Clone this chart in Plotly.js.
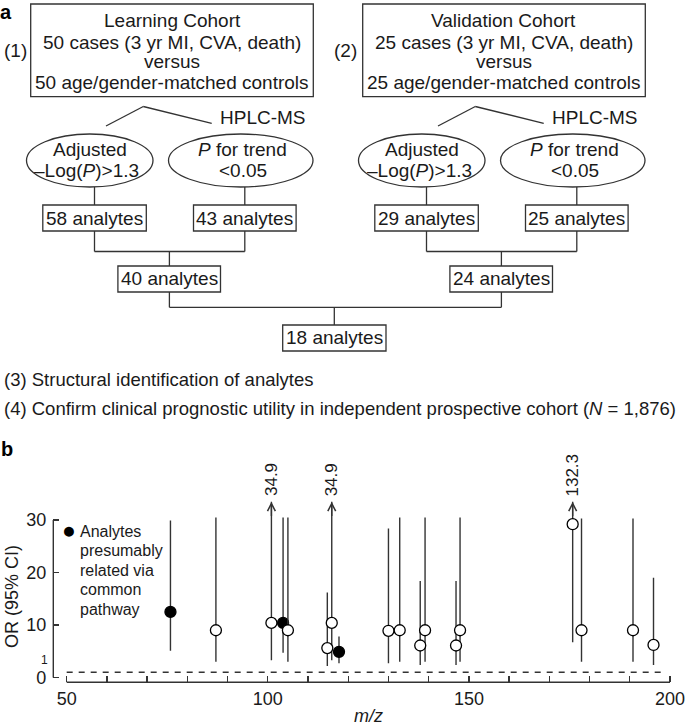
<!DOCTYPE html>
<html>
<head>
<meta charset="utf-8">
<script src="https://cdn.plot.ly/plotly-3.0.1.min.js"></script>
<style>html,body{margin:0;padding:0;background:#fff;}#chart{width:685px;height:726px;}</style>
</head>
<body>
<div id="chart"></div>
<script>
// ---------------- DATA (panel b) ----------------
const mz      = [75.8, 87.1, 100.9, 103.8, 105.0, 114.8, 115.9, 117.7, 130.0, 132.8, 137.9, 139.1, 146.8, 147.8, 175.8, 178.0, 190.8, 195.9];
const oddsRatio = [12.5, 9.0, 10.4, 10.4, 9.0, 5.6, 10.4, 4.9, 8.9, 9.0, 6.1, 9.0, 6.1, 9.0, 29.2, 9.0, 9.0, 6.2];
const ciLow   = [5.1, 3.0, 3.3, 4.7, 3.0, 2.2, 3.3, 2.7, 2.7, 3.0, 2.4, 3.0, 2.4, 3.0, 6.7, 3.0, 3.0, 2.4];
const ciHigh  = [29.9, 30.5, 34.9, 30.5, 30.5, 16.2, 34.9, 7.8, 28.4, 30.5, 18.4, 30.5, 18.4, 30.5, 132.3, 30.3, 30.3, 19.0];
const commonPathway = [1, 0, 0, 1, 0, 0, 0, 1, 0, 0, 0, 0, 0, 0, 0, 0, 0, 0];
const axisCap = 33.5;            // upper CIs beyond this are drawn as arrows
const xTickVals = [50, 60, 70, 80, 90, 100, 110, 120, 130, 140, 150, 160, 170, 180, 190, 200];
const xTickLabeled = [50, 100, 150, 200];
const yTickVals = [0, 10, 20, 30];
const refOR = 1;

// ---------------- DATA (panel a text) ----------------
const cohortTitles = ['Learning Cohort', 'Validation Cohort'];
const cohortCases = [50, 25];
const step1Counts = [58, 43, 29, 25];
const step2Counts = [40, 24];
const finalCount = [18];
const legendLines = ['Analytes', 'presumably', 'related via', 'common', 'pathway'];

// ---------------- helpers ----------------
const W = 685, H = 726;
const F = 'Liberation Sans, Arial, Helvetica, sans-serif';
const INK = '#1a1a1a', LINE = '#333333';
const X = v => v / W;
const Y = v => 1 - v / H;

const shapes = [];
const annotations = [];
function rect(x0, y0, x1, y1) {
  shapes.push({type: 'rect', xref: 'paper', yref: 'paper', x0: X(x0), x1: X(x1), y0: Y(y0), y1: Y(y1), line: {color: LINE, width: 1.3}});
}
function ell(x0, y0, x1, y1) {
  shapes.push({type: 'circle', xref: 'paper', yref: 'paper', x0: X(x0), x1: X(x1), y0: Y(y0), y1: Y(y1), line: {color: LINE, width: 1.3}});
}
function seg(x0, y0, x1, y1) {
  shapes.push({type: 'line', xref: 'paper', yref: 'paper', x0: X(x0), x1: X(x1), y0: Y(y0), y1: Y(y1), line: {color: LINE, width: 1.3}});
}
function txt(x, y, s, opt) {
  annotations.push(Object.assign({xref: 'paper', yref: 'paper', x: X(x), y: Y(y), text: s, showarrow: false,
    xanchor: 'center', yanchor: 'middle', font: {family: F, size: 19, color: INK}}, opt || {}));
}

// ---------------- panel a: flow chart ----------------
txt(6, 12, '<b>a</b>', {font: {family: F, size: 20, color: '#000'}});
const panels = [0, 332];
panels.forEach((dx, k) => {
  rect(30.7 + dx, 4, 313.3 + dx, 96.7);
  const cx = 172 + dx;
  txt(cx, 20, cohortTitles[k]);
  txt(cx, 42, cohortCases[k] + ' cases (3 yr MI, CVA, death)');
  txt(cx, 62, 'versus');
  txt(cx, 82, cohortCases[k] + ' age/gender-matched controls');
  txt(15 + dx * 0.994, 50, '(' + (k + 1) + ')');
  seg(106 + dx, 126, 143.3 + dx, 106.5);
  seg(143.3 + dx, 106.5, 211.7 + dx, 123.3);
  txt(262.5 + dx, 118, 'HPLC-MS');
  ell(26.5 + dx, 134, 153 + dx, 187);
  ell(168.5 + dx, 134, 313 + dx, 187);
  txt(90 + dx, 150, 'Adjusted');
  txt(87 + dx, 170, '\u2013Log(<i>P</i>)>1.3');
  txt(242 + dx, 150, '<i>P</i> for trend');
  txt(243 + dx, 170, '<0.05');
  const bx = [94.5 + dx, 244.8 + dx];
  seg(bx[0], 187, bx[0], 205);
  seg(bx[1], 187, bx[1], 205);
  rect(42.8 + dx, 205, 146.3 + dx, 231);
  rect(193.5 + dx, 205, 296.1 + dx, 231);
  txt(bx[0], 218, step1Counts[2 * k] + ' analytes');
  txt(bx[1], 218, step1Counts[2 * k + 1] + ' analytes');
  seg(bx[0], 231, bx[0], 251.5);
  seg(bx[1], 231, bx[1], 251.5);
  seg(bx[0], 251.5, bx[1], 251.5);
  const mx = 169.4 + dx;
  seg(mx, 251.5, mx, 266);
  rect(117.9 + dx, 266, 220.5 + dx, 292);
  txt(mx, 279, step2Counts[k] + ' analytes');
  seg(mx, 292, mx, 307.3);
});
seg(169.4, 307.3, 501.4, 307.3);
seg(334.3, 307.3, 334.3, 325);
rect(282.7, 325, 386, 351);
txt(334.3, 338, finalCount[0] + ' analytes');
txt(2, 380, '(3) Structural identification of analytes', {xanchor: 'left', font: {family: F, size: 18.5, color: INK}});
txt(2, 408, '(4) Confirm clinical prognostic utility in independent prospective cohort (<i>N</i> = 1,876)', {xanchor: 'left', font: {family: F, size: 18.5, color: INK}});

// ---------------- panel b ----------------
txt(7, 449, '<b>b</b>', {font: {family: F, size: 20, color: '#000'}});

const filledIdx = [], openIdx = [];
commonPathway.forEach((f, i) => (f ? filledIdx : openIdx).push(i));
function makeTrace(idx, filled) {
  return {
    type: 'scatter', mode: 'markers', showlegend: false, cliponaxis: false,
    x: idx.map(i => mz[i]), y: idx.map(i => oddsRatio[i]),
    error_y: {type: 'data', symmetric: false,
      array: idx.map(i => Math.min(ciHigh[i], axisCap) - oddsRatio[i]),
      arrayminus: idx.map(i => oddsRatio[i] - ciLow[i]),
      width: 0, thickness: 1.4, color: LINE},
    marker: {size: 11, color: filled ? '#000' : '#fff', line: {color: '#000', width: 1.3}},
    hoverinfo: 'x+y'
  };
}
const traces = [makeTrace(filledIdx, true), makeTrace(openIdx, false)];

// truncated CIs: arrow + value (rotated label just above the arrow tip)
const LBL = 17;
const approxLen = s => s.split('').reduce((a, c) => a + (c === '.' ? 0.278 : 0.556), 0) * LBL;
mz.forEach((m, i) => {
  if (ciHigh[i] > axisCap) {
    const s = String(ciHigh[i]);
    annotations.push({xref: 'x', yref: 'y', x: m, y: axisCap, axref: 'x', ayref: 'y', ax: m, ay: axisCap - 3,
      text: '', showarrow: true, arrowhead: 5, arrowsize: 1.1, arrowwidth: 1.4, arrowcolor: LINE});
    annotations.push({xref: 'x', yref: 'y', x: m, y: axisCap, text: s, showarrow: false,
      textangle: -90, xanchor: 'center', yanchor: 'middle', yshift: 5.5 + approxLen(s) / 2,
      font: {family: F, size: LBL, color: INK}});
  }
});

// reference line OR = 1
shapes.push({type: 'line', xref: 'x', yref: 'y', x0: 50, x1: 198, y0: refOR, y1: refOR,
  line: {color: LINE, width: 1.3, dash: '6px,6px'}});
// range-limited axis lines
shapes.push({type: 'line', xref: 'x domain', yref: 'y', x0: 0, x1: 0, y0: 0, y1: 30, line: {color: LINE, width: 1.4}});
shapes.push({type: 'line', xref: 'x', yref: 'y domain', x0: 50, x1: 200, y0: 0, y1: 0, line: {color: LINE, width: 1.4}});

annotations.push({xref: 'paper', yref: 'y', x: X(44), y: refOR, yshift: 12, text: '1', showarrow: false,
  xanchor: 'center', yanchor: 'middle', font: {family: F, size: 12, color: INK}});
txt(12, 597, 'OR (95% CI)', {textangle: -90, font: {family: F, size: 18, color: INK}});
txt(368, 716, '<i>m/z</i>', {font: {family: F, size: 18, color: INK}});
txt(69.3, 530, '\u25CF', {font: {family: F, size: 23, color: '#000'}});
legendLines.forEach((s, j) => txt(78, 531 + j * 19.5, s, {xanchor: 'left', font: {family: F, size: 16, color: INK}}));

const xMax = 201;
const layout = {
  width: W, height: H,
  margin: {l: 0, r: 0, t: 0, b: 0, pad: 0},
  paper_bgcolor: '#fff', plot_bgcolor: 'rgba(0,0,0,0)',
  showlegend: false,
  font: {family: F, color: INK},
  xaxis: {
    domain: [X(53.3), X(670 + (xMax - 200) * 4.022)], range: [46.67, xMax],
    tickmode: 'array', tickvals: xTickVals,
    ticktext: xTickVals.map(v => xTickLabeled.includes(v) ? String(v) : ''),
    ticks: 'inside', ticklen: 6, tickwidth: 1.3, tickcolor: LINE,
    showline: false, showgrid: false, zeroline: false, ticklabelstandoff: 4, ticklabeloverflow: 'allow',
    tickfont: {family: F, size: 18, color: INK}, fixedrange: true
  },
  yaxis: {
    domain: [Y(682.3), Y(440)], range: [-0.914, 45.24],
    tickmode: 'array', tickvals: yTickVals, ticktext: yTickVals.map(String),
    ticks: 'inside', ticklen: 6, tickwidth: 1.3, tickcolor: LINE,
    showline: false, showgrid: false, zeroline: false, ticklabelstandoff: 6,
    tickfont: {family: F, size: 18, color: INK}, fixedrange: true
  },
  shapes: shapes,
  annotations: annotations
};

Plotly.newPlot('chart', traces, layout, {displayModeBar: false, staticPlot: true});
</script>
</body>
</html>
